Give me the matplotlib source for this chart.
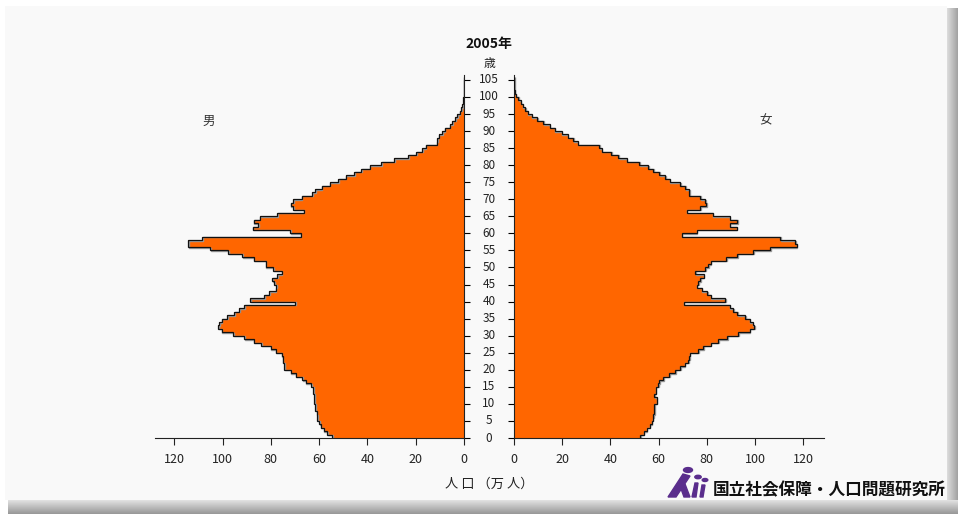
import numpy as np
import matplotlib
matplotlib.use("Agg")
import matplotlib.pyplot as plt
from matplotlib import transforms
from matplotlib.patches import Polygon, Circle

plt.rcParams['font.family'] = ['Noto Sans CJK JP', 'DejaVu Sans']

# ---------------- data (万人) ----------------
ages = list(range(0, 106))
male = [54.5, 56.6, 58.0, 59.4, 60.0, 60.7, 60.7, 61.1, 61.7, 61.7,
        62.1, 62.1, 62.1, 62.5, 62.5, 63.2, 65.6, 67.0, 69.7, 71.8,
        74.5, 74.5, 75.0, 75.0, 75.5, 78.0, 80.0, 83.9, 87.0, 91.1,
        95.5, 100.3, 101.9, 101.4, 100.3, 98.0, 95.2, 93.2, 91.1, 70.0,
        88.6, 82.8, 80.7, 78.0, 77.7, 78.7, 79.4, 77.3, 75.5, 79.0,
        82.1, 82.1, 87.0, 91.8, 97.7, 105.2, 114.3, 114.3, 108.4, 67.6,
        72.0, 87.6, 85.3, 87.0, 84.6, 77.3, 66.3, 70.8, 71.8, 70.8,
        67.3, 62.8, 61.7, 58.9, 55.6, 52.0, 49.0, 45.5, 42.5, 39.1,
        34.2, 28.8, 23.0, 19.7, 17.3, 15.9, 11.3, 11.0, 10.4, 9.0,
        7.9, 5.9, 4.8, 3.7, 2.8, 1.8, 1.2, 0.7, 0.4, 0.3,
        0.2, 0.1, 0.05, 0.02, 0.01, 0.0]
female = [52.3, 53.9, 55.0, 56.4, 57.1, 57.5, 57.8, 58.1, 58.2, 58.2,
          59.2, 59.2, 58.1, 58.9, 58.9, 59.9, 60.3, 62.0, 64.5, 66.8,
          68.9, 70.9, 72.3, 72.8, 73.0, 76.5, 78.6, 81.6, 84.8, 88.5,
          93.1, 97.7, 99.6, 99.0, 97.7, 95.9, 92.7, 91.0, 89.6, 70.5,
          87.6, 81.6, 80.2, 77.9, 75.8, 76.5, 77.2, 78.8, 75.1, 79.3,
          80.5, 81.6, 88.0, 92.7, 99.3, 106.2, 117.3, 116.6, 110.4, 69.6,
          75.8, 92.4, 89.6, 92.7, 89.6, 82.4, 71.6, 77.2, 79.7, 79.3,
          77.2, 72.8, 72.8, 71.0, 68.9, 64.7, 62.7, 60.3, 57.8, 55.7,
          52.0, 46.8, 43.3, 40.3, 36.4, 35.4, 26.4, 24.6, 22.3, 19.8,
          17.0, 14.9, 12.2, 9.7, 7.3, 5.7, 4.6, 3.6, 2.8, 1.8,
          0.8, 0.4, 0.2, 0.1, 0.05, 0.03]
x_ticks = [0, 20, 40, 60, 80, 100, 120]
age_ticks = list(range(0, 106, 5))
title = "2005年"

W, H = 958, 514
fig = plt.figure(figsize=(W / 100, H / 100), dpi=100)
fig.patch.set_facecolor('white')

# background panel with bevel shadow
bg = np.ones((H, W, 3))
bg[6:500, 5:947, :] = 0.98
rows = np.arange(500, H)
for i, r in enumerate(rows):
    g = 0.88 - 0.28 * i / (len(rows) - 1)
    bg[r, 8:, :] = g
cols = np.arange(947, W)
for i, c in enumerate(cols):
    g = 0.86 - 0.22 * i / (len(cols) - 1)
    bg[8:500, c, :] = g
fig.figimage(bg, xo=0, yo=0, origin='upper', zorder=-10)


def fx(x):
    return x / W


def fy(y):
    return 1 - y / H


ybot, ytop = 438, 74.8
ax_h = (ybot - ytop) / H
axL = fig.add_axes([fx(155), fy(ybot), fx(464) - fx(155), ax_h])
axR = fig.add_axes([fx(514), fy(ybot), fx(824) - fx(514), ax_h])

edges = np.arange(0, len(ages) + 1)
orange = '#FF6600'
for ax, vals in ((axL, male), (axR, female)):
    ax.set_facecolor('none')
    ax.stairs(vals, edges, orientation='horizontal', fill=True,
              color=orange, linewidth=0, zorder=2)
    ax.stairs(vals, edges, orientation='horizontal', fill=False,
              color='#9a9a9a', linewidth=1.0, baseline=None, zorder=2.5,
              transform=ax.transData + transforms.ScaledTranslation(0.5/100, -0.5/100, fig.dpi_scale_trans))
    ax.stairs(vals, edges, orientation='horizontal', fill=False,
              color='#111111', linewidth=0.9, baseline=None, zorder=3)
    ax.set_ylim(0, 106.5)
    ax.set_xticks(x_ticks)
    ax.set_xticklabels([str(v) for v in x_ticks])
    ax.set_yticks(age_ticks)
    ax.tick_params(axis='x', direction='out', length=5, width=0.8,
                   labelsize=9, pad=6, colors='#222222')
    ax.spines['top'].set_visible(False)
    ax.spines['bottom'].set_color('#222222')

axL.set_xlim(128, 0)
axR.set_xlim(0, 128.6)
axL.spines['left'].set_visible(False)
axL.spines['right'].set_color('#222222')
axR.spines['right'].set_visible(False)
axR.spines['left'].set_color('#222222')
axL.yaxis.tick_right()
axL.tick_params(axis='y', direction='out', length=4, width=0.8,
                labelright=False, labelleft=False)
axR.yaxis.tick_left()
axR.tick_params(axis='y', direction='out', length=4, width=0.8,
                labelleft=False, labelright=False)

# age labels centered in the gap
tr = transforms.blended_transform_factory(fig.transFigure, axL.transData)
for a in age_ticks:
    fig.text(fx(489), a, str(a), transform=tr, ha='center', va='center',
             fontsize=8.5, color='#222222')

fig.text(fx(489), fy(44), title, ha='center', va='center',
         fontsize=10, fontweight='bold', color='#111111')
fig.text(fx(489), fy(63), "歳", ha='center', va='center', fontsize=8.5,
         color='#222222')
fig.text(fx(209), fy(121), "男", ha='center', va='center', fontsize=9,
         color='#333333')
fig.text(fx(766), fy(121), "女", ha='center', va='center', fontsize=9,
         color='#333333')
fig.text(fx(489), fy(484), "人 口 （万 人）", ha='center', va='center',
         fontsize=9.5, color='#222222')

# institute logo + name
purple = '#5A2D8C'
logo = [
    Polygon([(fx(668), fy(497)), (fx(676), fy(497)), (fx(690), fy(476)),
             (fx(683), fy(474))], closed=True, color=purple),
    Polygon([(fx(680), fy(486)), (fx(684), fy(497)), (fx(690), fy(497)),
             (fx(685), fy(484))], closed=True, color=purple),
    Circle((fx(688), fy(470)), 4.5 / W, color=purple),
    Polygon([(fx(692), fy(497)), (fx(696), fy(497)), (fx(698), fy(483)),
             (fx(695), fy(483))], closed=True, color=purple),
    Circle((fx(698), fy(477)), 3.2 / W, color=purple),
    Polygon([(fx(700), fy(497)), (fx(703), fy(497)), (fx(705), fy(485)),
             (fx(702), fy(485))], closed=True, color=purple),
    Circle((fx(705), fy(480)), 2.8 / W, color=purple),
]
for p in logo:
    p.set_transform(fig.transFigure)
    fig.add_artist(p)
fig.text(fx(713), fy(490), "国立社会保障・人口問題研究所", ha='left',
         va='center', fontsize=12, fontweight='bold', color='#111111')

fig.savefig("out.png", dpi=100, facecolor=fig.get_facecolor())
